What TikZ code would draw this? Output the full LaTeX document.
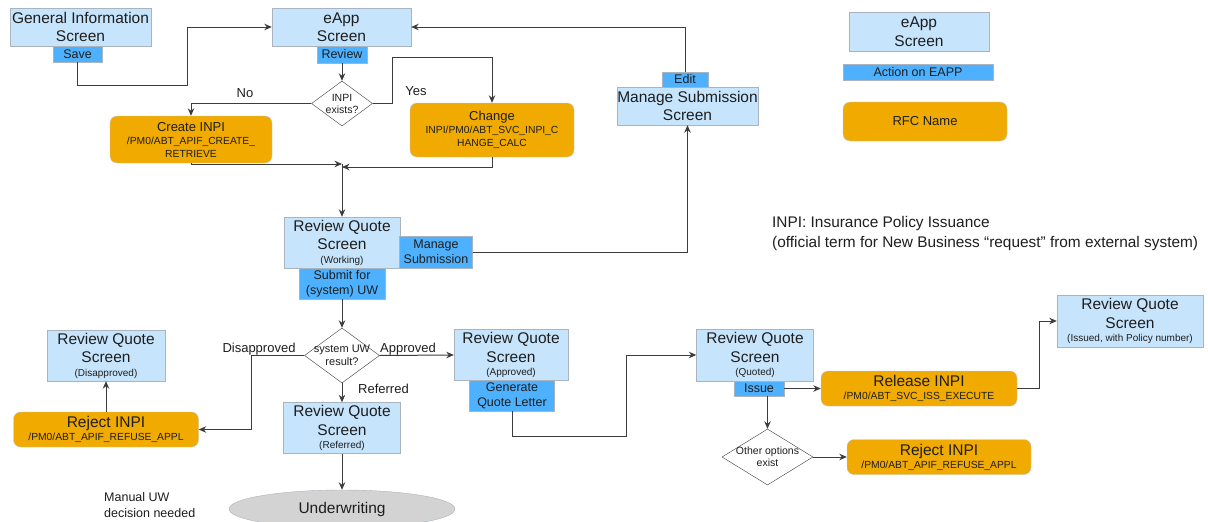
\documentclass[tikz,border=0pt]{standalone}
\usepackage{fontspec}
\setmainfont{Liberation Sans}
\usetikzlibrary{shapes.geometric,arrows.meta}

\definecolor{screenblue}{HTML}{C6E4FC}
\definecolor{actionblue}{HTML}{4DB1FF}
\definecolor{rfcorange}{HTML}{F0AA00}
\definecolor{edgegray}{HTML}{A9B4BE}
\definecolor{uwgray}{HTML}{D3D3D3}
\definecolor{linegray}{HTML}{3C3C3C}
\definecolor{textdark}{HTML}{1E1E1E}

\newcommand{\smalltag}[1]{{\fontsize{10}{12}\selectfont #1}}
\newcommand{\rfctitle}[2]{{\fontsize{#1}{#1}\selectfont #2}}

\begin{document}
\begin{tikzpicture}[x=1pt,y=-1pt,
	screen/.style={draw=edgegray,fill=screenblue,inner sep=0pt,align=center,text=textdark,font=\fontsize{15.5}{18.5}\selectfont},
	action/.style={draw=edgegray,fill=actionblue,inner sep=0pt,align=center,text=textdark,font=\fontsize{12.5}{15}\selectfont},
	rfc/.style={draw=edgegray!70,fill=rfcorange,rounded corners=7pt,inner sep=0pt,align=center,text=textdark,font=\fontsize{10.3}{13}\selectfont},
	decision/.style={diamond,draw=linegray,fill=white,inner sep=0pt},
	dtext/.style={align=center,text=textdark,inner sep=0pt,font=\fontsize{10.5}{12}\selectfont},
	lbl/.style={text=textdark,inner sep=0pt,font=\fontsize{13}{15}\selectfont},
	flow/.style={draw=linegray,line width=1pt,->,>={Stealth[length=7.5pt,width=6.5pt]}},
]
	\fill[white] (0,0) rectangle (1208,522);
	\useasboundingbox (0,0) rectangle (1208,522);

	% legend
	\node[screen,minimum width=140,minimum height=39] (keyscreen) at (919,31.5) {eApp\\Screen};
	\node[action,minimum width=150,minimum height=16] (keyaction) at (918,72) {Action on EAPP};
	\node[rfc,minimum width=164,minimum height=39,font=\fontsize{13}{15}\selectfont] (keyrfc) at (925,121.5) {RFC Name};
	\node[lbl,anchor=base west,font=\fontsize{15.4}{17}\selectfont] (inpidef) at (772,227) {INPI: Insurance Policy Issuance};
	\node[lbl,anchor=base west,font=\fontsize{15.4}{17}\selectfont] (inpinote) at (772,247.5) {(official term for New Business “request” from external system)};

	% eApp part
	\node[screen,minimum width=141,minimum height=38] (geninfo) at (80.5,27) {General Information\\Screen};
	\node[action,minimum width=49,minimum height=16] (save) at (77.5,54) {Save};
	\node[screen,minimum width=139,minimum height=38] (eapp) at (341.5,27) {eApp\\Screen};
	\node[action,minimum width=50,minimum height=17] (review) at (342,54.5) {Review};
	\node[decision,minimum width=61,minimum height=45] (inpiq) at (342,103.5) {};
	\node[dtext] (inpiqtxt) at (inpiq) {INPI\\exists?};
	\node[rfc,minimum width=162,minimum height=47] (create) at (191,139.5) {\rfctitle{13}{Create INPI}\\/PM0/ABT\_APIF\_CREATE\_\\RETRIEVE};
	\node[rfc,minimum width=164,minimum height=54] (change) at (492,130) {\rfctitle{13}{Change}\\INPI/PM0/ABT\_SVC\_INPI\_C\\HANGE\_CALC};
	\node[screen,minimum width=141,minimum height=38] (manage) at (687.5,106) {Manage Submission\\Screen};
	\node[action,minimum width=46,minimum height=15] (edit) at (685,79.5) {Edit};
	\coordinate (join) at (342,164);

	% quote part
	\node[screen,minimum width=116,minimum height=51] (working) at (342,242.5) {Review Quote\\Screen\\[-5pt]\smalltag{(Working)}};
	\node[action,minimum width=73,minimum height=32] (msub) at (436,252) {Manage\\Submission};
	\node[action,minimum width=86,minimum height=31] (submit) at (342,283.5) {Submit for\\(system) UW};
	\node[decision,minimum width=75,minimum height=55] (uwq) at (342,355.5) {};
	\node[dtext,font=\fontsize{11}{12.5}\selectfont] (uwqtxt) at (uwq) {system UW\\result?};
	\node[screen,minimum width=114,minimum height=51] (approved) at (511,355) {Review Quote\\Screen\\[-5pt]\smalltag{(Approved)}};
	\node[action,minimum width=85,minimum height=31] (genletter) at (512,395.5) {Generate\\Quote Letter};
	\node[screen,minimum width=118,minimum height=51] (disapp) at (106,355.5) {Review Quote\\Screen\\[-5pt]\smalltag{(Disapproved)}};
	\node[rfc,minimum width=185,minimum height=35] (reject1) at (106,429.5) {\rfctitle{15.5}{Reject INPI}\\/PM0/ABT\_APIF\_REFUSE\_APPL};
	\node[screen,minimum width=117,minimum height=51] (referred) at (342,428) {Review Quote\\Screen\\[-5pt]\smalltag{(Referred)}};
	\node[ellipse,draw=edgegray,fill=uwgray,minimum width=226,minimum height=38,inner sep=0pt,text=textdark,font=\fontsize{15.5}{18}\selectfont] (uw) at (342,509) {Underwriting};
	\node[lbl,align=left,anchor=west,font=\fontsize{12.5}{16.5}\selectfont] (manualtxt) at (104,505) {Manual UW\\decision needed};

	% issue part
	\node[screen,minimum width=117,minimum height=52] (quoted) at (755,355) {Review Quote\\Screen\\[-5pt]\smalltag{(Quoted)}};
	\node[action,minimum width=50,minimum height=15] (issue) at (759,388.5) {Issue};
	\node[rfc,minimum width=196,minimum height=35] (release) at (919,388.5) {\rfctitle{15.5}{Release INPI}\\/PM0/ABT\_SVC\_ISS\_EXECUTE};
	\node[screen,minimum width=146,minimum height=52] (issued) at (1130,321) {Review Quote\\Screen\\[-5pt]\smalltag{(Issued, with Policy number)}};
	\node[decision,minimum width=91,minimum height=56] (otherq) at (767.5,457) {};
	\node[dtext] (otherqtxt) at (otherq) {Other options\\exist};
	\node[rfc,minimum width=184,minimum height=35] (reject2) at (939,457) {\rfctitle{15.5}{Reject INPI}\\/PM0/ABT\_APIF\_REFUSE\_APPL};

	% connectors
	\draw[flow] (save.south) |- (187,85) |- (eapp.west);
	\draw[flow] (review.south) -- (inpiq.north);
	\draw[flow] (inpiq.west) -| (create.north);
	\node[lbl,anchor=base] (nolbl) at (245,97) {No};
	\draw[flow] (inpiq.east) -| (392,57) -| (change.north);
	\node[lbl,anchor=base] (yeslbl) at (416,95) {Yes};
	\draw[flow] (create.south) |- (join);
	\draw[flow] (change.south) |- ([yshift=-3pt]join);
	\draw[flow] (join) -- (working.north);
	\draw[flow] (edit.north) |- (eapp.east);
	\draw[flow] (msub.east) -| (manage.south);
	\draw[flow] (submit.south) -- (uwq.north);
	\draw[flow] (uwq.east) -- (approved.west);
	\node[lbl,anchor=base] (apprlbl) at (408,352) {Approved};
	\draw[flow] (uwq.west) -- ++(-53,0) |- (reject1.east);
	\node[lbl,anchor=base] (disalbl) at (259,352) {Disapproved};
	\draw[flow] (uwq.south) -- (referred.north);
	\node[lbl,anchor=base] (reflbl) at (383.5,393) {Referred};
	\draw[flow] (reject1.north) -- (disapp.south);
	\draw[flow] (referred.south) -- (uw.north);
	\draw[flow] (genletter.south) |- (626,436) |- (quoted.west);
	\draw[flow] (issue.east) -- (release.west);
	\draw[flow] (release.east) -- ++(22,0) |- (issued.west);
	\draw[flow] (issue.south -| otherq.north) -- (otherq.north);
	\draw[flow] (otherq.east) -- (reject2.west);
\end{tikzpicture}
\end{document}
